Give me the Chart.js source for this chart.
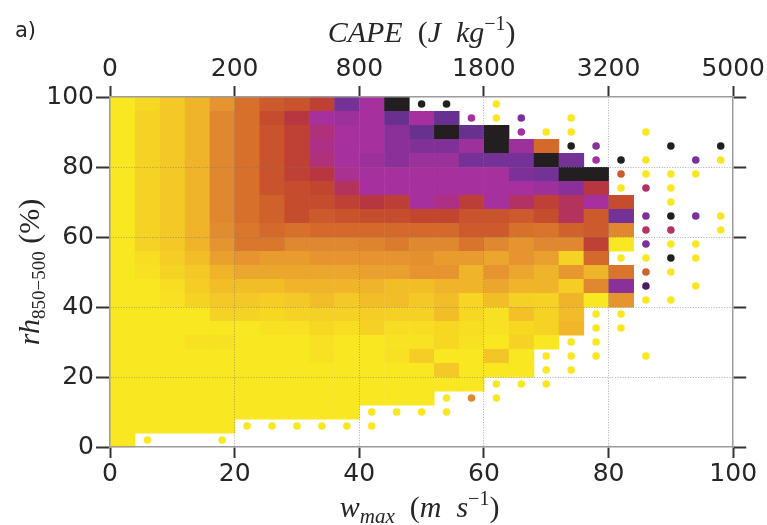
<!DOCTYPE html>
<html>
<head>
<meta charset="utf-8">
<script src="https://cdn.jsdelivr.net/npm/chart.js@4.4.1/dist/chart.umd.min.js"></script>
<style>
  html, body { margin: 0; background: #fff; }
</style>
</head>
<body>
<canvas id="grafico" width="767" height="525"></canvas>
<script>
// bins (lower edges), 4 m/s by 4 %
const binSize = 4;
const wBins = [0, 4, 8, 12, 16, 20, 24, 28, 32, 36, 40, 44, 48, 52, 56, 60, 64, 68, 72, 76, 80, 84, 88, 92, 96];
const rhBins = [96, 92, 88, 84, 80, 76, 72, 68, 64, 60, 56, 52, 48, 44, 40, 36, 32, 28, 24, 20, 16, 12, 8, 4, 0];

const _ = null;
// cell values (0 = yellow ... 100 = black), rows from rh 96 down to rh 0
const cellValues = [
  [0, 8, 14, 20, 29, 38, 44, 46, 52, 82, 68, 100, _, _, _, _, _, _, _, _, _, _, _, _, _],
  [0, 10, 14, 20, 32, 38, 48, 56, 68, 71, 68, 85, 68, 85, _, _, _, _, _, _, _, _, _, _, _],
  [0, 10, 14, 20, 32, 38, 46, 52, 62, 68, 68, 76, 85, 100, 85, 100, _, _, _, _, _, _, _, _, _],
  [0, 10, 14, 20, 32, 38, 46, 52, 64, 68, 68, 76, 79, 79, 71, 100, 71, 40, _, _, _, _, _, _, _],
  [0, 10, 14, 20, 32, 38, 46, 52, 62, 68, 71, 76, 71, 71, 82, 82, 82, 100, 82, _, _, _, _, _, _],
  [0, 10, 14, 20, 32, 38, 46, 52, 56, 66, 68, 68, 68, 68, 68, 68, 80, 82, 100, 100, _, _, _, _, _],
  [0, 10, 14, 20, 32, 38, 46, 48, 50, 59, 68, 68, 68, 68, 68, 68, 68, 71, 76, 56, _, _, _, _, _],
  [0, 10, 14, 20, 32, 38, 42, 48, 48, 52, 56, 53, 68, 64, 53, 68, 60, 52, 59, 68, 48, _, _, _, _],
  [0, 10, 14, 20, 32, 38, 42, 48, 44, 46, 48, 48, 50, 50, 46, 46, 44, 48, 59, 44, 82, _, _, _, _],
  [0, 10, 14, 20, 31, 36, 40, 38, 40, 40, 40, 40, 40, 40, 44, 44, 38, 37, 42, 44, 32, _, _, _, _],
  [0, 10, 14, 20, 29, 36, 36, 32, 32, 32, 33, 35, 32, 32, 37, 32, 29, 32, 32, 52, 0, _, _, _, _],
  [0, 5, 12, 17, 26, 29, 27, 27, 29, 29, 29, 29, 30, 27, 27, 24, 29, 26, 10, 40, _, _, _, _, _],
  [0, 3, 10, 14, 20, 24, 24, 24, 24, 24, 26, 26, 29, 29, 20, 29, 24, 20, 28, 20, 37, _, _, _, _],
  [0, 0, 5, 12, 17, 17, 17, 20, 20, 20, 20, 17, 17, 20, 20, 24, 20, 20, 12, 32, 76, _, _, _, _],
  [0, 0, 3, 10, 14, 14, 12, 14, 17, 14, 17, 17, 14, 17, 9, 17, 11, 10, 20, 0, 29, _, _, _, _],
  [0, 0, 0, 0, 10, 10, 8, 10, 11, 11, 12, 11, 11, 17, 8, 3, 16, 10, 18, _, _, _, _, _, _],
  [0, 0, 0, 0, 0, 0, 3, 3, 8, 5, 11, 5, 5, 8, 5, 3, 8, 10, 19, _, _, _, _, _, _],
  [0, 0, 0, 3, 3, 0, 0, 0, 3, 0, 0, 2, 2, 8, 3, 0, 10, 0, _, _, _, _, _, _, _],
  [0, 0, 0, 0, 0, 0, 0, 0, 3, 0, 0, 3, 12, 0, 0, 15, 0, _, _, _, _, _, _, _, _],
  [0, 0, 0, 0, 0, 0, 0, 0, 0, 0, 0, 0, 0, 14, 0, 0, 0, _, _, _, _, _, _, _, _],
  [0, 0, 0, 0, 0, 0, 0, 0, 0, 0, 0, 0, 0, 0, 0, _, _, _, _, _, _, _, _, _, _],
  [0, 0, 0, 0, 0, 0, 0, 0, 0, 0, 0, 0, 0, _, _, _, _, _, _, _, _, _, _, _, _],
  [0, 0, 0, 0, 0, 0, 0, 0, 0, 0, _, _, _, _, _, _, _, _, _, _, _, _, _, _, _],
  [0, 0, 0, 0, 0, _, _, _, _, _, _, _, _, _, _, _, _, _, _, _, _, _, _, _, _],
  [0, _, _, _, _, _, _, _, _, _, _, _, _, _, _, _, _, _, _, _, _, _, _, _, _]
];

// sparse bins drawn as dots (bin centres)
const dotW   = [50, 54, 62,  58, 62, 66, 74,  66, 70, 74, 86,  74, 78, 90, 98,  78, 82, 86, 94, 98,  82, 86, 90, 94,  82, 86, 90,  90,  86, 90, 94, 98,  86, 90, 98,  86, 90, 94,  82, 86, 90, 94,  86, 90,  86, 94,  86, 90,  78, 82,  78, 82,  74, 78,  70, 74, 78, 86,  70, 74,  62, 66, 70,  54, 58, 62,  42, 46, 50, 54,  22, 26, 30, 34, 38, 42,  6, 18];
const dotRh  = [98, 98, 98,  94, 94, 94, 94,  90, 90, 90, 90,  86, 86, 86, 86,  82, 82, 82, 82, 82,  78, 78, 78, 78,  74, 74, 74,  70,  66, 66, 66, 66,  62, 62, 62,  58, 58, 58,  54, 54, 54, 54,  50, 50,  46, 46,  42, 42,  38, 38,  34, 34,  30, 30,  26, 26, 26, 26,  22, 22,  18, 18, 18,  14, 14, 14,  10, 10, 10, 10,  6, 6, 6, 6, 6, 6,  2, 2];
const dotVal = [100, 100, 0,  68, 0, 80, 0,  68, 0, 0, 0,  100, 78, 100, 100,  68, 100, 0, 80, 0,  44, 0, 0, 0,  0, 60, 0,  0,  80, 100, 80, 0,  60, 60, 0,  80, 0, 0,  0, 0, 100, 0,  42, 0,  92, 0,  0, 0,  0, 0,  0, 0,  0, 0,  0, 0, 0, 0,  0, 0,  0, 0, 0,  0, 32, 0,  0, 0, 0, 0,  0, 0, 0, 0, 0, 0,  0, 0];

// axes
const wTicks = [0, 20, 40, 60, 80, 100];
const capeLabels = ['0', '200', '800', '1800', '3200', '5000'];
const rhTicks = [0, 20, 40, 60, 80, 100];

// colour map
const cmap = [
  [0, '#f9e721'], [8, '#f6d823'], [14, '#f4c826'], [20, '#f0b42a'], [26, '#e9a02e'],
  [32, '#e08830'], [38, '#d6702a'], [44, '#cc5a2c'], [50, '#c2452e'], [56, '#b8363f'],
  [62, '#b0307a'], [68, '#a6319e'], [76, '#8c3099'], [84, '#6c3296'], [92, '#4b1f5c'],
  [100, '#231f20']
];

function hexRgb(h) {
  return [parseInt(h.slice(1, 3), 16), parseInt(h.slice(3, 5), 16), parseInt(h.slice(5, 7), 16)];
}

function colorFor(v) {
  for (let i = 1; i < cmap.length; i++) {
    if (v <= cmap[i][0]) {
      const [v0, c0] = cmap[i - 1], [v1, c1] = cmap[i];
      const t = (v - v0) / (v1 - v0);
      const a = hexRgb(c0), b = hexRgb(c1);
      return `rgb(${a.map((k, j) => Math.round(k + (b[j] - k) * t)).join(',')})`;
    }
  }
  return cmap[cmap.length - 1][1];
}

const serif = '"Liberation Serif", "DejaVu Serif", serif';
const titleX = [
  { text: 'w', font: `italic 30px ${serif}` },
  { text: 'max', font: `italic 21px ${serif}`, dy: 6 },
  { text: '  (', font: `30px ${serif}` },
  { text: 'm  s', font: `italic 30px ${serif}` },
  { text: '\u22121', font: `20px ${serif}`, dy: -12 },
  { text: ')', font: `30px ${serif}` }
];
const titleTop = [
  { text: 'CAPE', font: `italic 30px ${serif}` },
  { text: '  (', font: `30px ${serif}` },
  { text: 'J  kg', font: `italic 30px ${serif}` },
  { text: '\u22121', font: `20px ${serif}`, dy: -12 },
  { text: ')', font: `30px ${serif}` }
];
const titleY = [
  { text: 'rh', font: `italic 30px ${serif}` },
  { text: '850\u2212500', font: `19px ${serif}`, dy: 6 },
  { text: ' (%)', font: `30px ${serif}` }
];

function richText(ctx, parts, cx, cy, angle) {
  ctx.save();
  ctx.translate(cx, cy);
  ctx.rotate(angle);
  let total = 0;
  parts.forEach(p => { ctx.font = p.font; p.w = ctx.measureText(p.text).width; total += p.w; });
  let x = -total / 2;
  ctx.textBaseline = 'alphabetic';
  ctx.fillStyle = '#262626';
  parts.forEach(p => { ctx.font = p.font; ctx.fillText(p.text, x, p.dy || 0); x += p.w; });
  ctx.restore();
}

const heatmap = {
  id: 'heatmap',
  beforeDraw(chart) {
    const { ctx, scales: { x, y } } = chart;
    ctx.save();
    rhBins.forEach((rh, r) => {
      wBins.forEach((w, c) => {
        const v = cellValues[r][c];
        if (v === null) return;
        const x0 = x.getPixelForValue(w), x1 = x.getPixelForValue(w + binSize);
        const y0 = y.getPixelForValue(rh + binSize), y1 = y.getPixelForValue(rh);
        ctx.fillStyle = colorFor(v);
        ctx.fillRect(x0, y0, x1 - x0 + 0.5, y1 - y0 + 0.5);
      });
    });
    ctx.restore();
  }
};

const labels = {
  id: 'labels',
  afterDraw(chart) {
    const { ctx, chartArea: a, scales } = chart;
    const cx = (a.left + a.right) / 2;
    richText(ctx, titleX, cx - 2, scales.x.bottom - 8, 0);
    richText(ctx, titleTop, cx, scales.x2.top + 42, 0);
    richText(ctx, titleY, scales.y.left + 39, (a.top + a.bottom) / 2, -Math.PI / 2);
    ctx.save();
    ctx.font = '21px "DejaVu Sans"';
    ctx.fillStyle = '#262626';
    ctx.textBaseline = 'alphabetic';
    ctx.fillText('a)', 15, 37);
    ctx.restore();
  }
};

const tickFont = { family: 'DejaVu Sans', size: 25 };
const gridColor = c => (c.tick && (c.tick.value === 0 || c.tick.value === 100)) ? 'rgba(0,0,0,0)' : 'rgba(120,120,120,0.6)';
const frame = { color: '#9c9c9c', width: 1.5, dash: [1, 1.6] };

new Chart(document.getElementById('grafico'), {
  type: 'scatter',
  data: {
    datasets: [{
      data: dotW.map((w, i) => ({ x: w, y: dotRh[i] })),
      backgroundColor: dotVal.map(colorFor),
      pointRadius: 3.8,
      pointHoverRadius: 3.8,
      borderWidth: 0
    }]
  },
  options: {
    responsive: false,
    animation: false,
    layout: { padding: 0 },
    plugins: { legend: { display: false }, tooltip: { enabled: false } },
    scales: {
      x: {
        type: 'linear', position: 'bottom', min: 0, max: 100,
        afterBuildTicks: s => { s.ticks = wTicks.map(v => ({ value: v })); },
        afterFit: s => { s.height = 78; },
        ticks: { font: tickFont, color: '#262626', padding: 1, maxRotation: 0 },
        grid: { color: gridColor, lineWidth: 1, tickLength: 11, tickWidth: 2, tickColor: '#333' },
        border: frame
      },
      x2: {
        type: 'linear', position: 'top', min: 0, max: 100,
        afterBuildTicks: s => { s.ticks = wTicks.map(v => ({ value: v })); },
        afterFit: s => { s.height = 97; },
        ticks: { font: tickFont, color: '#262626', padding: 2, maxRotation: 0, callback: (v, i) => capeLabels[i] },
        grid: { drawOnChartArea: false, tickLength: 11, tickWidth: 2, tickColor: '#333' },
        border: frame
      },
      y: {
        type: 'linear', position: 'left', min: 0, max: 100,
        afterBuildTicks: s => { s.ticks = rhTicks.map(v => ({ value: v })); },
        afterFit: s => { s.width = 110; },
        ticks: { font: tickFont, color: '#262626', padding: 2 },
        grid: { color: gridColor, lineWidth: 1, tickLength: 14, tickWidth: 2, tickColor: '#333' },
        border: frame
      },
      y2: {
        type: 'linear', position: 'right', min: 0, max: 100,
        afterBuildTicks: s => { s.ticks = rhTicks.map(v => ({ value: v })); },
        afterFit: s => { s.width = 32; },
        ticks: { display: false },
        grid: { drawOnChartArea: false, tickLength: 13, tickWidth: 2, tickColor: '#333' },
        border: frame
      }
    }
  },
  plugins: [heatmap, labels]
});
</script>
</body>
</html>
